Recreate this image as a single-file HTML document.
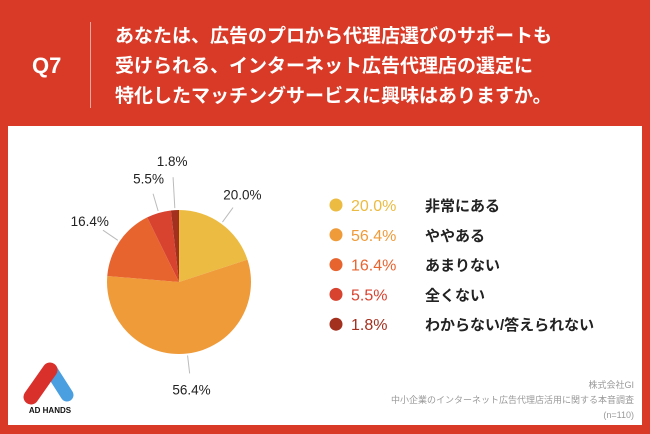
<!DOCTYPE html>
<html><head><meta charset="utf-8"><style>
body{margin:0;width:650px;height:434px;overflow:hidden;background:#d93a27;font-family:"Liberation Sans","Noto Sans CJK JP",sans-serif;position:relative}
.abs{position:absolute}
</style></head><body>
<div class="abs" style="left:32px;top:53px;color:#fff;font-size:22px;font-weight:bold">Q7</div>
<div class="abs" style="left:90px;top:22px;width:1px;height:86px;background:#f0a89c"></div>
<div class="abs" style="left:115px;top:22px;color:#fff;font-size:19px;font-weight:bold;line-height:30px;white-space:nowrap">あなたは、広告のプロから代理店選びのサポートも<br>受けられる、インターネット広告代理店の選定に<br>特化したマッチングサービスに興味はありますか。</div>
<div class="abs" style="left:8px;top:126px;width:634px;height:299px;background:#fff"></div>
<svg class="abs" style="left:0;top:0" width="650" height="434" id="chart"></svg>
<div class="abs" style="right:16px;top:378px;color:#999;font-size:9px;line-height:15px;text-align:right">株式会社GI<br>中小企業のインターネット広告代理店活用に関する本音調査<br>(n=110)</div>
<svg class="abs" style="left:20px;top:360px" width="60" height="56">
<line x1="31" y1="10" x2="47" y2="35" stroke="#4a9fe0" stroke-width="13" stroke-linecap="round"/>
<line x1="30" y1="10" x2="11" y2="37" stroke="#d9302c" stroke-width="15" stroke-linecap="round"/>
<text x="30" y="53" font-size="8" font-weight="bold" text-anchor="middle" fill="#111">AD HANDS</text>
</svg>
<script>
const categories=["非常にある","ややある","あまりない","全くない","わからない/答えられない"];
const values=[20.0,56.4,16.4,5.5,1.8];
const valueLabels=["20.0%","56.4%","16.4%","5.5%","1.8%"];
const colors=["#ecbb41","#ef9b3a","#e8642f","#d8432f","#a3301e"];
const svg=document.getElementById('chart');
const NS="http://www.w3.org/2000/svg";
const cx=179,cy=282,r=72;
const total=values.reduce((a,b)=>a+b,0);
function pt(a,rad){return [cx+rad*Math.sin(a),cy-rad*Math.cos(a)];}
let a0=0;
values.forEach((v,i)=>{
  const a1=a0+v/total*2*Math.PI;
  const p0=pt(a0,r),p1=pt(a1,r);
  const large=(a1-a0)>Math.PI?1:0;
  const path=document.createElementNS(NS,'path');
  path.setAttribute('d',`M${cx},${cy}L${p0[0]},${p0[1]}A${r},${r} 0 ${large} 1 ${p1[0]},${p1[1]}Z`);
  path.setAttribute('fill',colors[i]);
  
  
  svg.appendChild(path);
  const mid=(a0+a1)/2;
  const extra=v<3?13:0;
  const l1=pt(mid,r+2),l2=pt(mid,r+20+extra),lt=pt(mid,r+36+extra);
  const ln=document.createElementNS(NS,'line');
  ln.setAttribute('x1',l1[0]);ln.setAttribute('y1',l1[1]);ln.setAttribute('x2',l2[0]);ln.setAttribute('y2',l2[1]);
  ln.setAttribute('stroke','#bbb');
  
  
  svg.appendChild(ln);
  const t=document.createElementNS(NS,'text');
  t.setAttribute('x',lt[0]);t.setAttribute('y',lt[1]+5);
  t.setAttribute('text-anchor','middle');t.setAttribute('font-size','13.5');t.setAttribute('fill','#222');
  t.textContent=valueLabels[i];
  
  
  svg.appendChild(t);
  const y=205+i*29.8;
  const c=document.createElementNS(NS,'circle');
  c.setAttribute('cx',336);c.setAttribute('cy',y);c.setAttribute('r',6.5);c.setAttribute('fill',colors[i]);
  
  
  svg.appendChild(c);
  const pv=document.createElementNS(NS,'text');
  pv.setAttribute('x',351);pv.setAttribute('y',y+6);pv.setAttribute('font-size','16');pv.setAttribute('fill',colors[i]);
  pv.textContent=valueLabels[i];
  
  
  svg.appendChild(pv);
  const lb=document.createElementNS(NS,'text');
  lb.setAttribute('x',425);lb.setAttribute('y',y+6);lb.setAttribute('font-size','15');lb.setAttribute('font-weight','bold');lb.setAttribute('fill','#222');
  lb.textContent=categories[i];
  
  
  svg.appendChild(lb);
  a0=a1;
});
</script>
</body></html>
